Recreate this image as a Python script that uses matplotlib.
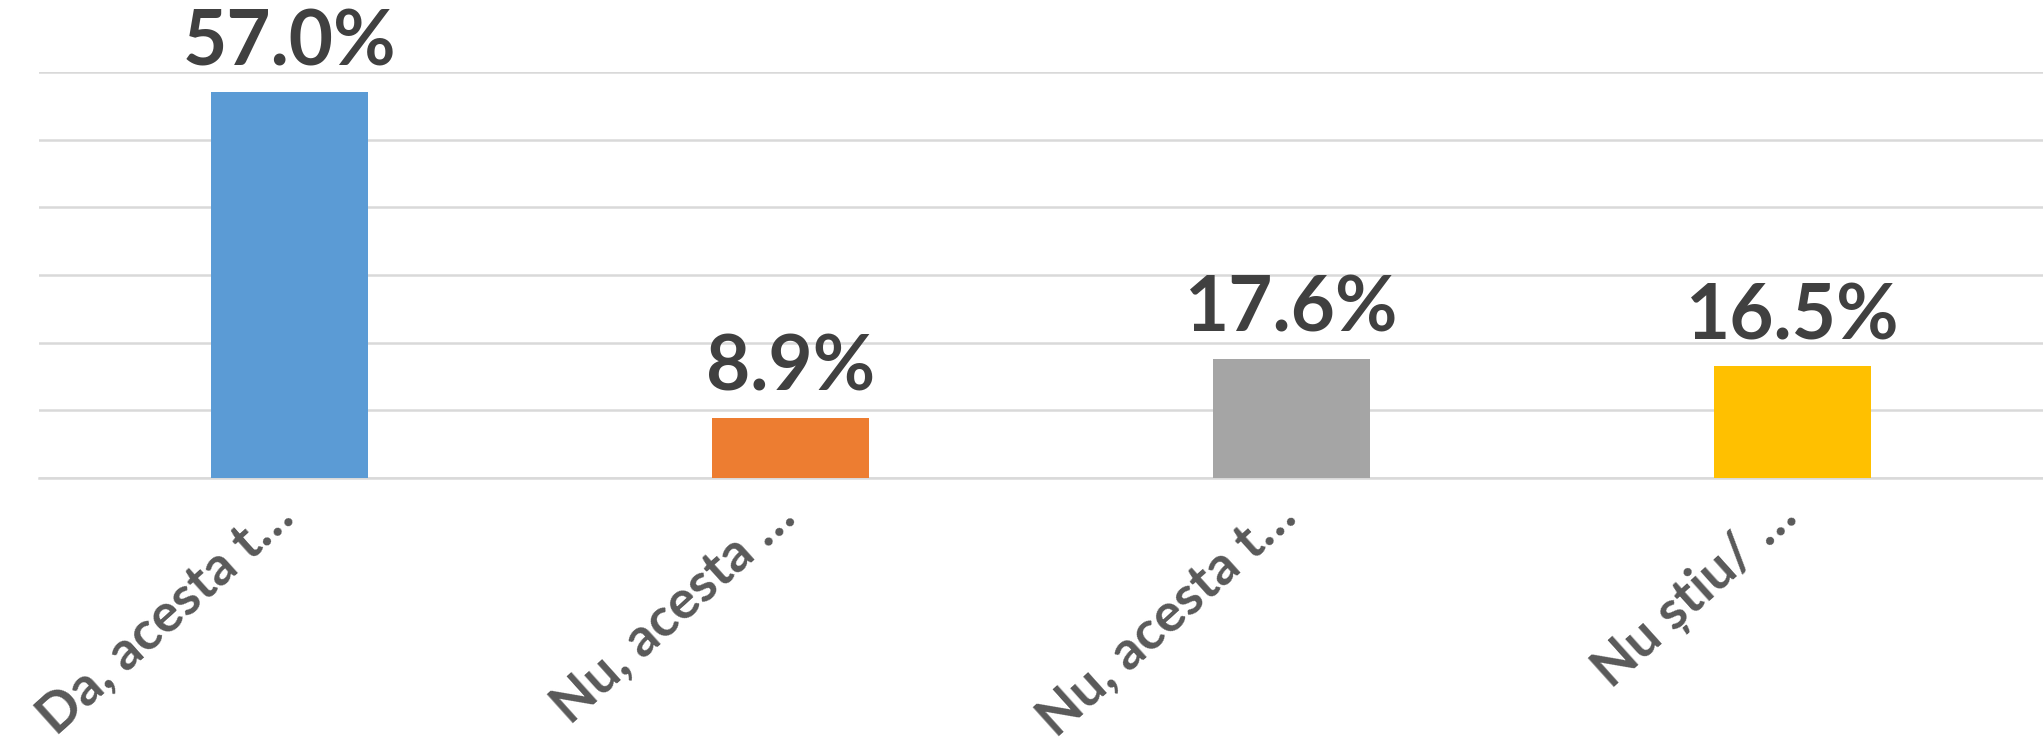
import matplotlib
matplotlib.use('Agg')
import matplotlib.pyplot as plt
import matplotlib.transforms as mtransforms

plt.rcParams['font.family'] = ['Lato', 'DejaVu Sans']

categories = ['Da, acesta t…', 'Nu, acesta …', 'Nu, acesta t…', 'Nu știu/ …']
values = [57.0, 8.9, 17.6, 16.5]
bar_colors = ['#5B9BD5', '#ED7D31', '#A5A5A5', '#FFC000']
y_ticks = [0, 10, 20, 30, 40, 50, 60]

fig = plt.figure(figsize=(20.43, 7.5), dpi=100)
ax = fig.add_axes([0.0191, 0.3627, 0.9809, 0.5413])

x = list(range(len(categories)))
bars = ax.bar(x, values, width=0.315, color=bar_colors, zorder=3)

ax.set_xlim(-0.5, len(categories) - 0.5)
ax.set_ylim(0, 60)
ax.set_yticks(y_ticks)
ax.yaxis.grid(True, color='#D9D9D9', linewidth=1.8, zorder=0)
ax.tick_params(axis='both', length=0, labelleft=False, labelbottom=False)
for side in ['top', 'right', 'left']:
    ax.spines[side].set_visible(False)
ax.spines['bottom'].set_color('#D9D9D9')
ax.spines['bottom'].set_linewidth(1.8)

# value labels above the bars
for rect, v in zip(bars, values):
    ax.annotate(f'{v:.1f}%', (rect.get_x() + rect.get_width() / 2, v),
                xytext=(0, 27), textcoords='offset pixels',
                ha='center', va='baseline', fontsize=55, fontweight='bold',
                color='#404040', annotation_clip=False)

# rotated category labels, right end at category centre
offset = mtransforms.ScaledTranslation(-20 / 100, -12 / 100, fig.dpi_scale_trans)
for xi, lab in zip(x, categories):
    ax.text(xi, 0, lab, transform=ax.get_xaxis_transform() + offset,
            rotation=42, rotation_mode='anchor', ha='right', va='top',
            fontsize=39, fontweight='bold', color='#595959')

fig.savefig('out.png', dpi=100)
